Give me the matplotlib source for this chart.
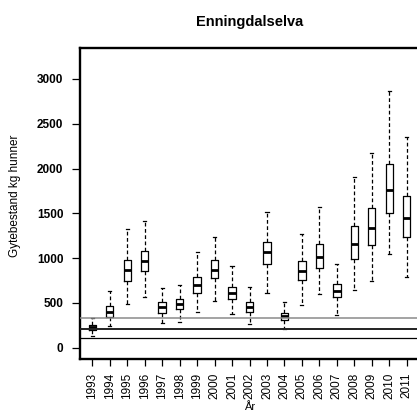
import matplotlib.pyplot as plt

years = [str(y) for y in range(1993, 2012)]
whisker_low = [134, 242, 488, 569, 272, 290, 402, 521, 373, 261,
               614, 209, 473, 599, 362, 644, 748, 1046, 786]
q1 = [198, 346, 744, 856, 391, 428, 614, 774, 540, 402,
      931, 309, 756, 893, 566, 990, 1146, 1500, 1239]
median = [228, 402, 867, 968, 451, 484, 700, 871, 610, 458,
          1065, 354, 859, 1016, 633, 1154, 1339, 1760, 1451]
q3 = [253, 465, 979, 1083, 510, 540, 792, 975, 681, 513,
      1176, 384, 968, 1161, 708, 1362, 1559, 2050, 1690]
whisker_high = [328, 636, 1325, 1417, 666, 700, 1071, 1239, 915, 681,
                1511, 513, 1269, 1567, 931, 1908, 2169, 2868, 2355]

# reference levels drawn as horizontal lines
ref_levels = [335, 212, 105]
ref_colors = ['#8a8a8a', '#222222', '#000000']
ref_widths = [1.1, 1.4, 0.9]

plt.rcParams['font.family'] = ['Liberation Sans', 'DejaVu Sans']

fig = plt.figure(figsize=(4.17, 4.15), dpi=100)
ax = fig.add_axes([80 / 417, 56 / 415, 339 / 417, 311 / 415])

stats = []
for i in range(len(years)):
    stats.append({'med': median[i], 'q1': q1[i], 'q3': q3[i],
                  'whislo': whisker_low[i], 'whishi': whisker_high[i],
                  'label': years[i]})

ax.bxp(stats, positions=range(1, len(years) + 1), widths=0.42,
       capwidths=0.18, showfliers=False,
       boxprops=dict(color='black', linewidth=0.9),
       medianprops=dict(color='black', linewidth=2.0),
       whiskerprops=dict(color='black', linewidth=0.9, linestyle=(0, (3, 2))),
       capprops=dict(color='black', linewidth=0.9))

for lvl, c, w in zip(ref_levels, ref_colors, ref_widths):
    ax.axhline(lvl, color=c, linewidth=w, zorder=5)

ax.set_xlim(0.3, 19.7)
ax.set_ylim(-126, 3345)
ax.set_yticks([0, 500, 1000, 1500, 2000, 2500, 3000])
ax.set_xticks(range(1, len(years) + 1))
ax.set_xticklabels(years, rotation=90, fontsize=8.5)
for lab in ax.get_yticklabels():
    lab.set_fontweight('bold')
    lab.set_fontsize(8.5)

ax.tick_params(axis='y', length=6, width=0.9, pad=6)
ax.tick_params(axis='x', length=5, width=0.9, pad=5)
for sp in ax.spines.values():
    sp.set_linewidth(1.7)

ax.set_title('Enningdalselva', fontsize=10.5, fontweight='bold', pad=16)
# axis titles placed in figure pixels, like the original
fig.text(15 / 417, 1 - 196 / 415, 'Gytebestand kg hunner', fontsize=8.5,
         rotation=90, ha='center', va='center')
fig.text(250 / 417, 1 - 407 / 415, 'År', fontsize=8, ha='center', va='center')

fig.savefig('out.png', dpi=100)
